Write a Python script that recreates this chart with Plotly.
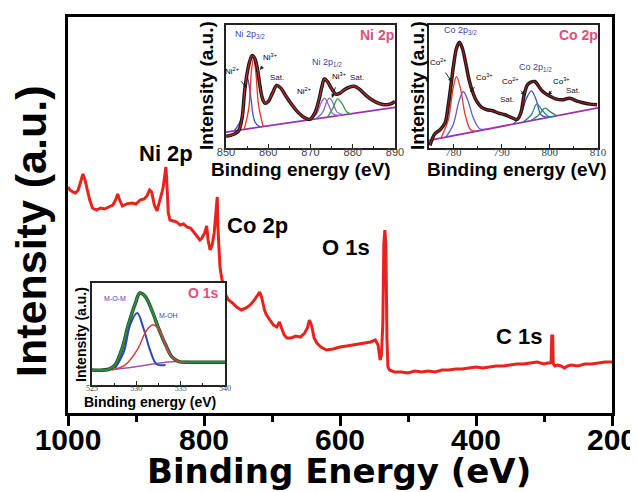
import plotly.graph_objects as go

# ---------------- main survey spectrum ----------------
main_ev = [1000, 997, 993, 989, 985, 981, 978, 975, 972, 968, 964, 958, 952, 946, 940, 934, 930, 927, 924, 920,
           914, 906, 900, 894, 888, 884, 880, 877, 873, 869, 866, 864.5, 862, 860, 858, 856, 855, 854, 852.5, 850,
           845, 840, 835, 830, 825, 820, 815, 810, 806, 803, 799, 796, 794, 791, 788, 785, 783, 781.5, 780.5, 779.5,
           778, 776.5, 774, 771, 768, 764, 758, 752, 745, 738, 732, 726, 721, 718, 715, 711, 708, 703, 698, 693,
           689, 686, 682, 678, 672, 665, 658, 652, 648, 645, 642, 638, 634, 628, 620, 610, 600, 590, 580, 570,
           562, 555, 548, 544, 541, 539, 537, 535.5, 534, 532.5, 531, 529.5, 527, 520, 510, 500, 490, 480, 470,
           460, 450, 440, 430, 420, 410, 400, 390, 380, 370, 360, 350, 340, 330, 320, 310, 300, 295, 291, 289.5,
           288.6, 287.2, 286.3, 284, 280, 275, 270, 265, 260, 250, 240, 230, 220, 210, 200]
main_I = [226, 223, 221, 220, 223, 233, 239, 233, 223, 213, 205, 203, 205, 204, 206, 208, 213, 219, 213, 207,
          209, 210, 209, 213, 214, 217, 223, 221, 208, 202, 210, 213, 220, 226, 238, 246, 235, 220, 200, 193,
          192, 191, 188, 189, 186, 185, 181, 177, 173, 175, 180, 187, 173, 163, 168, 180, 195, 213, 216, 185,
          160, 146, 135, 127, 118, 113, 110, 106, 103, 105, 108, 113, 118, 121, 115, 103, 98, 93, 88, 86,
          91, 85, 78, 75, 75, 77, 76, 80, 85, 93, 88, 75, 70, 66, 63, 64, 66, 67, 68, 69,
          70, 71, 73, 68, 53, 58, 90, 170, 183, 168, 75, 46, 43, 41, 41, 40, 42, 41, 42,
          41, 43, 43, 44, 44, 45, 46, 45, 46, 47, 47, 48, 49, 49, 50, 51, 49, 50, 50, 51,
          77, 77, 49, 47, 48, 47, 45, 47, 48, 47, 49, 49, 50, 51, 51]
main_ticks = [1000, 800, 600, 400, 200]
main_minor = [900, 700, 500, 300]

# ---------------- Ni 2p inset ----------------
ni_ev = [850, 851, 852, 853, 853.8, 854.4, 855.0, 855.6, 856.2, 856.8, 857.4, 858.0, 858.6, 859.2, 860, 861, 862,
         863, 864, 865.5, 867, 868.5, 869.8, 871, 872, 872.7, 873.3, 874.0, 875, 876, 877, 878, 879, 880.3,
         881.5, 883, 884.5, 886, 887.5, 889, 890]
ni_I = [35, 38, 42, 52, 90, 170, 225, 260, 278, 270, 240, 190, 150, 135, 140, 165, 188, 180, 160, 132, 108,
        92, 86, 105, 145, 185, 208, 200, 178, 162, 165, 175, 182, 186, 178, 160, 145, 135, 130, 133, 140]
ni_bg_ev = [850, 890]
ni_bg_I = [48, 122]
ni2_a_ev = [852.0, 853.5, 854.3, 855.0, 855.8, 856.8, 858.0]
ni2_a_I = [52, 85, 165, 215, 160, 80, 63]
ni3_a_ev = [854.3, 855.4, 856.0, 856.5, 857.0, 857.7, 858.8]
ni3_a_I = [56, 120, 230, 268, 235, 130, 65]
ni2_b_ev = [869.5, 871.3, 872.5, 873.3, 874.2, 875.4, 877.2]
ni2_b_I = [84, 100, 135, 150, 132, 102, 98]
ni3_b_ev = [871.2, 872.9, 873.8, 874.5, 875.3, 876.3, 877.9]
ni3_b_I = [87, 108, 138, 150, 136, 108, 100]
ni_g_ev = [874.0, 875.3, 876.4, 877.4, 878.6, 879.8]
ni_g_I = [92, 120, 148, 135, 108, 102]
ni_ticks = [850, 860, 870, 880, 890]
ni_minor = [855, 865, 875, 885]

# ---------------- Co 2p inset ----------------
co_ev = [775.2, 776.2, 777.3, 778.3, 779.0, 779.6, 780.1, 780.7, 781.3, 781.9, 782.6, 783.3, 784.0, 784.9, 785.9,
         787.0, 788.2, 789.4, 790.7, 792.0, 793.2, 794.0, 794.7, 795.4, 796.1, 796.9, 797.6, 798.4, 799.3, 800.2,
         801.4, 802.8, 804.1, 805.5, 806.9, 808.3, 809.8]
co_I = [8, 42, 55, 75, 130, 195, 250, 300, 318, 300, 255, 205, 170, 140, 122, 115, 112, 105, 100, 92, 86, 105,
        160, 190, 198, 200, 188, 172, 162, 155, 147, 145, 150, 142, 136, 132, 130]
co_bg_ev = [775, 810]
co_bg_I = [23, 121]
co2_a_ev = [777.5, 779.0, 780.0, 780.7, 781.5, 782.5, 783.6, 784.8]
co2_a_I = [31, 85, 180, 215, 180, 100, 55, 50]
co3_a_ev = [778.5, 780.0, 781.2, 782.1, 783.0, 784.2, 785.5, 786.8]
co3_a_I = [33, 70, 140, 170, 145, 90, 58, 57]
co2_b_ev = [792.5, 794.0, 795.2, 796.2, 797.2, 798.2, 799.5]
co2_b_I = [72, 100, 150, 172, 145, 100, 92]
co3_b_ev = [794.5, 796.2, 797.3, 798.4, 799.6, 800.8]
co3_b_I = [78, 100, 132, 115, 96, 95]
co_g_ev = [796.0, 797.8, 799.0, 800.2, 801.5]
co_g_I = [82, 100, 120, 108, 97]
co_ticks = [780, 790, 800, 810]
co_minor = [785, 795, 805]

# ---------------- O 1s inset ----------------
o_ev = [525, 526.9, 527.6, 528.4, 529.1, 529.9, 530.4, 531.0, 531.8, 532.5, 533.3, 534.0, 534.8, 535.9, 537.8, 540]
o_I = [45, 47, 60, 110, 180, 245, 275, 265, 220, 170, 120, 85, 70, 68, 68, 68]
o_mom_ev = [527.6, 528.6, 529.3, 530.1, 530.8, 531.6, 532.3, 533.3]
o_mom_I = [50, 100, 180, 215, 170, 100, 62, 60]
o_moh_ev = [527.25, 528.75, 530.1, 531.2, 531.9, 532.7, 533.6, 534.6, 535.5]
o_moh_I = [45, 60, 105, 165, 180, 160, 100, 72, 68]
o_bg_ev = [525, 526.5, 528.5, 530.5, 532.5, 534.5, 536]
o_bg_I = [45, 45, 50, 57, 65, 70, 70]
o_ticks = [525, 530, 535, 540]
o_minor = [527.5, 532.5, 537.5]

# ---------------- layout helpers ----------------
W, H = 638, 492
OFF = 8  # default page body margin
L, R, T, B = 68, 612, 17, 413


def px(x, y):
    return (x - L) / (R - L), (B - y) / (B - T)


def dom(x0, x1, y0, y1):
    a, b = px(x0, y1)
    c, d = px(x1, y0)
    return [a, c], [b, d]


SANS = "Liberation Sans, Arial, sans-serif"
WIDE = "DejaVu Sans, Verdana, sans-serif"
SERIF = "Liberation Serif, Times New Roman, serif"
PINK = "#e0507a"
BLUE = "#3a45b0"

fig = go.Figure()


def line(xs, ys, ax, color, width, shape="linear"):
    fig.add_trace(go.Scatter(x=xs, y=ys, mode="lines", xaxis="x" + ax, yaxis="y" + ax,
                             line=dict(color=color, width=width, shape=shape),
                             showlegend=False, hoverinfo="skip"))


# main
line(main_ev, main_I, "", "#e8231d", 3)

# Ni inset
line(ni_bg_ev, ni_bg_I, "2", "#9b30b0", 1.8)
line(ni2_a_ev, ni2_a_I, "2", "#3c4fc4", 1.3, "spline")
line(ni3_a_ev, ni3_a_I, "2", "#e8322a", 1.3, "spline")
line(ni2_b_ev, ni2_b_I, "2", "#a064d2", 1.3, "spline")
line(ni3_b_ev, ni3_b_I, "2", "#7c6fc0", 1.3, "spline")
line(ni_g_ev, ni_g_I, "2", "#2f9e44", 1.3, "spline")
line(ni_ev, ni_I, "2", "#1a1a1a", 3.5, "spline")
line(ni_ev, ni_I, "2", "#c0262a", 1.2, "spline")

# Co inset
line(co_bg_ev, co_bg_I, "3", "#9b30b0", 1.8)
line(co2_a_ev, co2_a_I, "3", "#e53935", 1.3, "spline")
line(co3_a_ev, co3_a_I, "3", "#5c5cc8", 1.3, "spline")
line(co2_b_ev, co2_b_I, "3", "#3f51b5", 1.3, "spline")
line(co3_b_ev, co3_b_I, "3", "#2b7fa8", 1.3, "spline")
line(co_g_ev, co_g_I, "3", "#2e8b57", 1.3, "spline")
line(co_ev, co_I, "3", "#1a1a1a", 3.5, "spline")
line(co_ev, co_I, "3", "#9b1c1c", 1.2, "spline")

# O inset
line(o_bg_ev, o_bg_I, "4", "#a050b0", 1.5, "spline")
line(o_ev, o_I, "4", "#1f4d2a", 3.5, "spline")
line(o_ev, o_I, "4", "#2f8a45", 2.0, "spline")
line(o_mom_ev, o_mom_I, "4", "#2b4ab0", 2.0, "spline")
line(o_moh_ev, o_moh_I, "4", "#d04040", 1.5, "spline")

ni_dx, ni_dy = dom(226, 395, 25, 148)
co_dx, co_dy = dom(429, 598, 25, 148)
o_dx, o_dy = dom(92, 225, 283, 385)


def inset_x(domain, anchor, rng, ticks, minor, font, size, standoff):
    return dict(domain=domain, anchor=anchor, range=rng, showline=True, linewidth=1.5, linecolor="#222",
                mirror=True, ticks="inside", ticklen=4, tickwidth=1, tickcolor="#222", tickvals=ticks,
                minor=dict(tickvals=minor, ticks="inside", ticklen=2.5, tickcolor="#222"),
                tickfont=dict(family=font, size=size, color="#444"), ticklabelstandoff=standoff,
                showgrid=False, zeroline=False, automargin=False)


def inset_y(domain, anchor, rng):
    return dict(domain=domain, anchor=anchor, range=rng, showline=True, linewidth=1.5, linecolor="#222",
                mirror=True, ticks="", showticklabels=False, showgrid=False, zeroline=False)


FW, FH = W - OFF, H - OFF
fig.update_layout(
    width=FW, height=FH,
    margin=dict(l=L - OFF, r=FW - (R - OFF), t=T - OFF, b=FH - (B - OFF), autoexpand=False),
    paper_bgcolor="white", plot_bgcolor="white", showlegend=False,
    xaxis=dict(domain=[0, 1], anchor="y", range=[1000, 200], showline=True, linewidth=3, linecolor="black",
               mirror=True, ticks="outside", ticklen=10, tickwidth=3, tickcolor="black", tickvals=main_ticks,
               minor=dict(tickvals=main_minor, ticks="outside", ticklen=6, tickwidth=3, tickcolor="black"),
               tickfont=dict(family=SANS, size=30, color="black", weight="bold"), ticklabelstandoff=-12,
               showgrid=False, zeroline=False, automargin=False),
    yaxis=dict(domain=[0, 1], anchor="x", range=[0, 396], showline=True, linewidth=3, linecolor="black",
               mirror=True, ticks="", showticklabels=False, showgrid=False, zeroline=False),
    xaxis2=inset_x(ni_dx, "y2", [850, 890], ni_ticks, ni_minor, SANS, 11, -7),
    yaxis2=inset_y(ni_dy, "x2", [0, 370]),
    xaxis3=inset_x(co_dx, "y3", [775, 810], co_ticks, co_minor, SERIF, 11, -7),
    yaxis3=inset_y(co_dy, "x3", [0, 370]),
    xaxis4=inset_x(o_dx, "y4", [525, 540], o_ticks, o_minor, SERIF, 8, -5),
    yaxis4=inset_y(o_dy, "x4", [0, 305]),
)

ann = []


def text(x, y, s, size, color="black", bold=True, angle=0, family=SANS):
    xp, yp = px(x, y)
    ann.append(dict(x=xp, y=yp, xref="paper", yref="paper", text=s, showarrow=False, textangle=angle,
                    font=dict(family=family, size=size, color=color, weight="bold" if bold else "normal"),
                    xanchor="center", yanchor="middle"))


def arrow_text(lx, ly, hx, hy, s, size=8, color="black"):
    xp, yp = px(hx, hy)
    ann.append(dict(x=xp, y=yp, xref="paper", yref="paper", text=s, showarrow=True, ax=lx - hx, ay=ly - hy,
                    arrowhead=2, arrowsize=0.8, arrowwidth=1, arrowcolor="#222", standoff=0, startstandoff=5,
                    font=dict(family=SANS, size=size, color=color)))


# main axis titles and peak labels
text(31, 232, "Intensity (a.u.)", 43, angle=-90)
text(339, 471, "Binding Energy (eV)", 34, family=WIDE)
text(166, 153, "Ni 2p", 22)
text(257, 225, "Co 2p", 22)
text(346, 247, "O 1s", 22)
text(519, 336, "C 1s", 22)

# Ni inset texts
text(300, 169, "Binding energy (eV)", 19)
text(207, 86, "Intensity (a.u.)", 19, angle=-90)
text(377, 35, "Ni 2p", 14, color=PINK)
text(250, 35, "Ni 2p<sub>3/2</sub>", 9, color=BLUE, bold=False)
text(327, 63, "Ni 2p<sub>1/2</sub>", 9, color=BLUE, bold=False)
arrow_text(270, 57, 260, 70, "Ni<sup>3+</sup>")
arrow_text(232, 71, 247, 88, "Ni<sup>2+</sup>")
text(277, 77, "Sat.", 8, bold=False, color="#222")
arrow_text(339, 76, 332, 98, "Ni<sup>3+</sup>")
arrow_text(304, 91, 313, 102, "Ni<sup>2+</sup>")
text(357, 77, "Sat.", 8, bold=False, color="#222")

# Co inset texts
text(516, 169, "Binding energy (eV)", 19)
text(418, 86, "Intensity (a.u.)", 19, angle=-90)
text(578, 35, "Co 2p", 14, color=PINK)
text(460, 30, "Co 2p<sub>3/2</sub>", 9, color=BLUE, bold=False)
text(535, 67, "Co 2p<sub>1/2</sub>", 9, color=BLUE, bold=False)
arrow_text(438, 62, 452, 82, "Co<sup>2+</sup>")
arrow_text(484, 77, 470, 92, "Co<sup>3+</sup>")
text(507, 100, "Sat.", 8, bold=False, color="#222")
arrow_text(510, 81, 525, 95, "Co<sup>2+</sup>")
arrow_text(561, 81, 548, 95, "Co<sup>3+</sup>")
text(573, 90, "Sat.", 8, bold=False, color="#222")

# O inset texts
text(150, 402, "Binding energy (eV)", 14)
text(81, 335, "Intensity (a.u.)", 14, angle=-90)
text(203, 293, "O 1s", 14, color=PINK)
text(115, 298, "M-O-M", 7, color=BLUE, bold=False)
text(168, 315, "M-OH", 7, color=BLUE, bold=False)

fig.update_layout(annotations=ann)
fig.write_html("out.html")
